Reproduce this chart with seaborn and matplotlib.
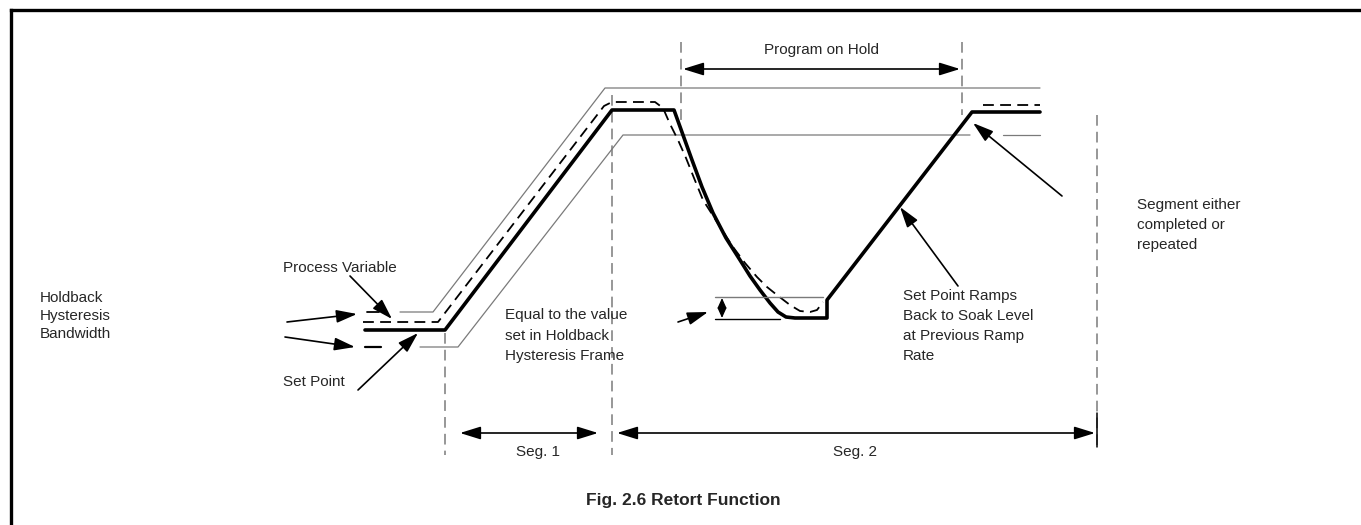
import matplotlib
matplotlib.use("Agg")
import matplotlib.pyplot as plt
import seaborn as sns
import pandas as pd

# ---------------- data (diagram coordinates, pixel space) ----------------
setpoint_x = [365, 445, 612, 674, 683, 692, 702, 713, 726, 740, 750, 760, 770, 778, 786, 795, 827, 827, 972, 1040]
setpoint_y = [330, 330, 110, 110, 135, 160, 187, 213, 238, 260, 276, 290, 303, 312, 317, 318, 318, 300, 112, 112]

pv_x = [363, 438, 604, 612, 622, 655, 663, 670, 678, 686, 694, 703, 717, 733, 745, 757, 767, 777, 790, 800, 810, 817, 823]
pv_y = [322, 322, 106, 102, 102, 102, 108, 124, 140, 158, 178, 200, 222, 247, 263, 277, 287, 295, 305, 311, 312, 310, 302]
pv2_x = [983, 1040]
pv2_y = [105, 105]

band_upper_x = [400, 433, 605, 1040]
band_upper_y = [312, 312, 88, 88]
band_lower_x = [420, 458, 623, 970]
band_lower_y = [347, 347, 135, 135]
band_lower2_x = [1003, 1040]
band_lower2_y = [135, 135]

hold_top_x = [715, 823]
hold_top_y = [297, 297]
hold_bot_x = [715, 780]
hold_bot_y = [319, 319]

vline_x = [445, 612, 681, 962, 1097]
vline_top = [333, 95, 42, 42, 115]
vline_bot = [455, 455, 125, 115, 447]

holdback_lines = ["Holdback", "Hysteresis", "Bandwidth"]
equal_lines = ["Equal to the value", "set in Holdback", "Hysteresis Frame"]
segment_lines = ["Segment either", "completed or", "repeated"]
ramp_lines = ["Set Point Ramps", "Back to Soak Level", "at Previous Ramp", "Rate"]
title_text = "Fig. 2.6 Retort Function"

# ---------------- drawing ----------------
sns.set_theme(style="white")
plt.rcParams['font.family'] = ['Liberation Sans', 'DejaVu Sans']

W, H = 1361, 525
fig = plt.figure(figsize=(W / 100, H / 100), dpi=100)
ax = fig.add_axes([0, 0, 1, 1])
ax.set_xlim(0, W)
ax.set_ylim(H, 0)
ax.axis("off")

GRAY = "#7a7a7a"
FS = 11

def line(xs, ys, **kw):
    df = pd.DataFrame({"x": xs, "y": ys})
    sns.lineplot(data=df, x="x", y="y", sort=False, estimator=None, ax=ax, **kw)

# frame (top and left edges)
ax.plot([11, W], [10, 10], color="black", lw=2.4, solid_capstyle="projecting")
ax.plot([11, 11], [10, H], color="black", lw=2.4, solid_capstyle="projecting")

# holdback band
line(band_upper_x, band_upper_y, color=GRAY, lw=0.9)
line(band_lower_x, band_lower_y, color=GRAY, lw=0.9)
line(band_lower2_x, band_lower2_y, color=GRAY, lw=0.9)
ax.plot([367, 379], [312, 312], color="black", lw=1.3)
ax.plot([365, 381], [347, 347], color="black", lw=1.6)

# vertical dashed reference lines
for x, t, b in zip(vline_x, vline_top, vline_bot):
    ax.plot([x, x], [t, b], color=GRAY, lw=1.1, linestyle=(0, (7, 4)))
ax.plot([1097, 1097], [413, 447], color="black", lw=1.1)

# process variable (dashed)
line(pv_x, pv_y, color="black", lw=1.3, linestyle=(0, (6, 3.5)))
line(pv2_x, pv2_y, color="black", lw=1.3, linestyle=(0, (6, 3.5)))

# set point (thick)
line(setpoint_x, setpoint_y, color="black", lw=2.6)

# hold band at bottom
line(hold_top_x, hold_top_y, color=GRAY, lw=1.0)
line(hold_bot_x, hold_bot_y, color="black", lw=1.0)

def arrow(x0, y0, x1, y1, style="-|>", ms=14, lw=1.2, hl=0.9, hw=0.28):
    ax.annotate("", xy=(x1, y1), xytext=(x0, y0),
                arrowprops=dict(arrowstyle=f"{style},head_length={hl},head_width={hw}",
                                color="black", lw=lw, shrinkA=0, shrinkB=0,
                                mutation_scale=ms))

# pointer arrows
arrow(350, 276, 392, 319)
arrow(287, 322, 357, 314)
arrow(285, 337, 355, 347)
arrow(358, 390, 418, 333)
arrow(678, 322, 708, 312)
arrow(958, 286, 900, 207)
arrow(1062, 196, 973, 123)
arrow(722, 298, 722, 318, style="<|-|>", ms=6, lw=1.0, hl=1.0, hw=0.45)

# dimension arrows
arrow(683, 69, 960, 69, style="<|-|>")
arrow(460, 433, 598, 433, style="<|-|>")
arrow(617, 433, 1095, 433, style="<|-|>")

# texts
ax.text(283, 268, "Process Variable", fontsize=FS, va="center", ha="left")
for i, s in enumerate(holdback_lines):
    ax.text(40, 298 + 18 * i, s, fontsize=FS, va="center", ha="left")
ax.text(283, 382, "Set Point", fontsize=FS, va="center", ha="left")
for i, s in enumerate(equal_lines):
    ax.text(505, 315 + 20.5 * i, s, fontsize=FS, va="center", ha="left")
ax.text(822, 50, "Program on Hold", fontsize=FS, va="center", ha="center")
for i, s in enumerate(segment_lines):
    ax.text(1137, 205 + 20 * i, s, fontsize=FS, va="center", ha="left")
for i, s in enumerate(ramp_lines):
    ax.text(903, 296 + 20 * i, s, fontsize=FS, va="center", ha="left")
ax.text(538, 452, "Seg. 1", fontsize=FS, va="center", ha="center")
ax.text(855, 452, "Seg. 2", fontsize=FS, va="center", ha="center")
ax.text(683, 500, title_text, fontsize=12.5, fontweight="bold", va="center", ha="center")

fig.savefig("out.png", dpi=100, facecolor="white")
